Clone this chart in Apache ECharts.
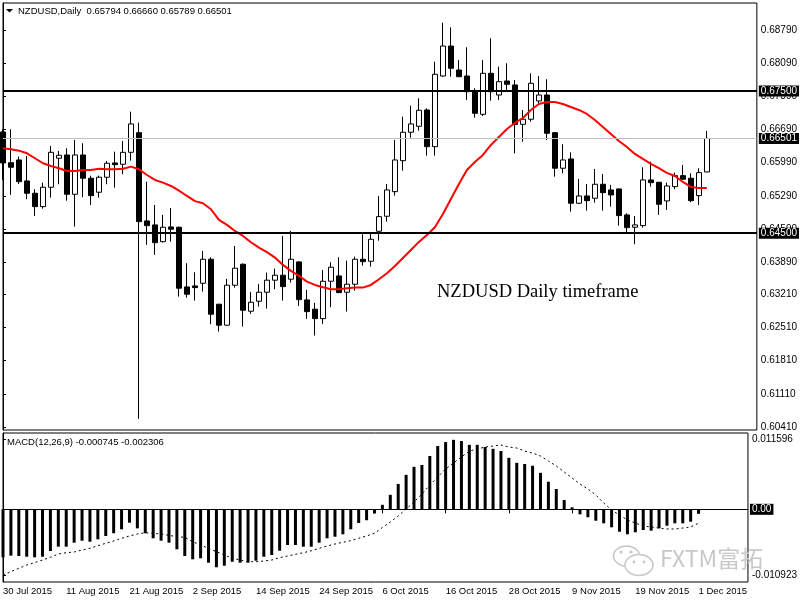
<!DOCTYPE html>
<html><head><meta charset="utf-8">
<script src="https://cdn.jsdelivr.net/npm/echarts@6/dist/echarts.min.js"></script>
<style>html,body{margin:0;padding:0;background:#fff}#c{width:800px;height:600px}</style>
</head><body><div id="c"></div>
<script>
const dates = [
'30 Jul 2015','31 Jul 2015',
'3 Aug 2015','4 Aug 2015','5 Aug 2015','6 Aug 2015','7 Aug 2015','10 Aug 2015','11 Aug 2015','12 Aug 2015','13 Aug 2015','14 Aug 2015','17 Aug 2015','18 Aug 2015','19 Aug 2015','20 Aug 2015','21 Aug 2015','24 Aug 2015','25 Aug 2015','26 Aug 2015','27 Aug 2015','28 Aug 2015','31 Aug 2015',
'1 Sep 2015','2 Sep 2015','3 Sep 2015','4 Sep 2015','7 Sep 2015','8 Sep 2015','9 Sep 2015','10 Sep 2015','11 Sep 2015','14 Sep 2015','15 Sep 2015','16 Sep 2015','17 Sep 2015','18 Sep 2015','21 Sep 2015','22 Sep 2015','23 Sep 2015','24 Sep 2015','25 Sep 2015','28 Sep 2015','29 Sep 2015','30 Sep 2015',
'1 Oct 2015','2 Oct 2015','5 Oct 2015','6 Oct 2015','7 Oct 2015','8 Oct 2015','9 Oct 2015','12 Oct 2015','13 Oct 2015','14 Oct 2015','15 Oct 2015','16 Oct 2015','19 Oct 2015','20 Oct 2015','21 Oct 2015','22 Oct 2015','23 Oct 2015','26 Oct 2015','27 Oct 2015','28 Oct 2015','29 Oct 2015','30 Oct 2015',
'2 Nov 2015','3 Nov 2015','4 Nov 2015','5 Nov 2015','6 Nov 2015','9 Nov 2015','10 Nov 2015','11 Nov 2015','12 Nov 2015','13 Nov 2015','16 Nov 2015','17 Nov 2015','18 Nov 2015','19 Nov 2015','20 Nov 2015','23 Nov 2015','24 Nov 2015','25 Nov 2015','26 Nov 2015','27 Nov 2015','30 Nov 2015',
'1 Dec 2015'];
const dateTicks = [0,8,16,24,32,40,48,56,64,72,80,88];

const opens = [0.66638,0.65990,0.66047,0.65604,0.65344,0.65062,0.65471,0.66083,0.66152,0.65323,
0.66152,0.65661,0.65366,0.65682,0.65984,0.65956,0.66209,0.66623,0.64760,0.64676,
0.64323,0.64633,0.64627,0.63367,0.63388,0.63445,0.63951,0.63002,0.62559,0.63403,
0.63846,0.62854,0.63065,0.63255,0.63509,0.63614,0.63530,0.63895,0.63093,0.62896,
0.62698,0.63487,0.63599,0.63255,0.63424,0.63951,0.63909,0.64542,0.64859,0.65378,
0.66032,0.66632,0.66758,0.67102,0.66328,0.67819,0.68452,0.67946,0.67819,0.67488,
0.67011,0.67876,0.67418,0.67714,0.67630,0.66800,0.66906,0.67292,0.67418,0.66623,
0.65872,0.66068,0.65133,0.65287,0.65239,0.65534,0.65414,0.65435,0.64887,0.64627,
0.64661,0.65625,0.65576,0.65182,0.65484,0.65716,0.65661,0.65294,0.65794];
const highs = [0.66701,0.66695,0.66117,0.66131,0.65429,0.65568,0.66343,0.66237,0.66294,0.66469,
0.66399,0.65716,0.65716,0.66026,0.66222,0.66448,0.67066,0.66834,0.65589,0.65097,
0.64887,0.65034,0.64640,0.63867,0.63677,0.64127,0.63994,0.63009,0.63536,0.64232,
0.63863,0.63262,0.63431,0.63669,0.63754,0.64443,0.64549,0.63905,0.63304,0.63030,
0.63726,0.63888,0.63994,0.63922,0.64006,0.64479,0.64528,0.65287,0.65541,0.66469,
0.66961,0.67193,0.67349,0.67138,0.68121,0.68944,0.68847,0.68157,0.68425,0.67560,
0.68157,0.68615,0.68016,0.68087,0.67735,0.67102,0.67876,0.67819,0.67750,0.66638,
0.66378,0.66209,0.65646,0.65541,0.65857,0.65752,0.65520,0.65446,0.64922,0.64865,
0.65893,0.66011,0.65583,0.65568,0.65779,0.65942,0.65766,0.65872,0.66660];
const lows = [0.65625,0.65309,0.65541,0.65218,0.64865,0.65019,0.65252,0.65534,0.65188,0.64640,
0.65260,0.65097,0.65252,0.65534,0.65462,0.65745,0.66032,0.60582,0.64254,0.64043,
0.64302,0.64323,0.63163,0.63141,0.63078,0.63268,0.62580,0.62424,0.62550,0.63352,
0.62530,0.62798,0.62952,0.62909,0.63319,0.63078,0.63458,0.62966,0.62692,0.62340,
0.62587,0.62939,0.63234,0.62846,0.63289,0.63817,0.63796,0.64344,0.64745,0.65294,
0.65821,0.66518,0.66665,0.66138,0.66138,0.67804,0.67804,0.67797,0.67313,0.66940,
0.66976,0.67298,0.67313,0.67503,0.66188,0.66433,0.66855,0.67208,0.66469,0.65695,
0.65766,0.64956,0.65119,0.64977,0.65146,0.64977,0.65062,0.64661,0.64500,0.64268,
0.64619,0.65484,0.64887,0.64992,0.65429,0.65625,0.65155,0.65097,0.65789];
const closes = [0.65984,0.65893,0.65589,0.65344,0.65062,0.65471,0.66209,0.66146,0.65323,0.66152,
0.65661,0.65294,0.65682,0.65977,0.65948,0.66209,0.66807,0.64745,0.64661,0.64302,
0.64627,0.64585,0.63340,0.63213,0.63352,0.63951,0.62791,0.62559,0.63403,0.63762,
0.62875,0.63044,0.63255,0.63509,0.63614,0.63374,0.63951,0.63099,0.62846,0.62698,
0.63487,0.63783,0.63247,0.63424,0.63951,0.63901,0.64373,0.64851,0.65414,0.66047,
0.66632,0.66807,0.67096,0.66328,0.67855,0.68452,0.67982,0.67804,0.67488,0.67032,
0.67876,0.67488,0.67699,0.67644,0.66800,0.66906,0.67665,0.67418,0.66610,0.65872,
0.66047,0.65133,0.65287,0.65188,0.65534,0.65357,0.65309,0.64872,0.64619,0.64676,
0.65625,0.65568,0.65112,0.65498,0.65716,0.65640,0.65188,0.65779,0.66501];
const maValues = [0.66294,0.66273,0.66243,0.66188,0.66083,0.65977,0.65920,0.65872,0.65815,0.65815,
0.65836,0.65836,0.65863,0.65851,0.65851,0.65863,0.65906,0.65851,0.65730,0.65625,
0.65568,0.65498,0.65399,0.65287,0.65178,0.65133,0.65007,0.64781,0.64676,0.64549,
0.64443,0.64310,0.64197,0.64100,0.63986,0.63832,0.63705,0.63599,0.63479,0.63409,
0.63361,0.63319,0.63319,0.63340,0.63353,0.63353,0.63409,0.63530,0.63656,0.63810,
0.63979,0.64148,0.64317,0.64465,0.64626,0.64908,0.65224,0.65541,0.65836,0.66005,
0.66153,0.66364,0.66532,0.66701,0.66828,0.66933,0.67102,0.67229,0.67271,0.67271,
0.67229,0.67166,0.67102,0.67018,0.66891,0.66743,0.66596,0.66448,0.66322,0.66174,
0.66068,0.65963,0.65875,0.65773,0.65709,0.65583,0.65478,0.65455,0.65455];
const macdHist = [-0.00795,-0.00768,-0.00773,-0.00785,-0.00795,-0.00785,-0.00691,-0.00619,-0.00619,-0.00553,
-0.00520,-0.00537,-0.00497,-0.00442,-0.00397,-0.00331,-0.00222,-0.00315,-0.00397,-0.00480,
-0.00520,-0.00553,-0.00662,-0.00773,-0.00828,-0.00811,-0.00884,-0.00960,-0.00934,-0.00868,
-0.00884,-0.00884,-0.00851,-0.00785,-0.00757,-0.00686,-0.00591,-0.00591,-0.00619,-0.00619,
-0.00553,-0.00480,-0.00454,-0.00414,-0.00331,-0.00227,-0.00181,-0.00070,0.00075,0.00240,
0.00419,0.00571,0.00704,0.00734,0.00883,0.01048,0.01114,0.01151,0.01131,0.01068,
0.01068,0.01032,0.01002,0.00965,0.00853,0.00770,0.00750,0.00722,0.00604,0.00457,
0.00336,0.00154,0.00033,-0.00083,-0.00132,-0.00189,-0.00232,-0.00298,-0.00371,-0.00414,
-0.00381,-0.00343,-0.00354,-0.00315,-0.00272,-0.00232,-0.00232,-0.00205,-0.000745];
const macdSignal = [-0.01088,-0.01033,-0.00977,-0.00922,-0.00884,-0.00840,-0.00795,-0.00740,-0.00719,-0.00707,
-0.00674,-0.00646,-0.00603,-0.00563,-0.00525,-0.00480,-0.00442,-0.00409,-0.00388,-0.00397,
-0.00409,-0.00431,-0.00454,-0.00464,-0.00537,-0.00591,-0.00646,-0.00702,-0.00757,-0.00811,
-0.00840,-0.00868,-0.00868,-0.00856,-0.00840,-0.00801,-0.00773,-0.00745,-0.00719,-0.00686,
-0.00646,-0.00608,-0.00575,-0.00546,-0.00520,-0.00480,-0.00442,-0.00397,-0.00301,-0.00210,
-0.00111,0.00005,0.00121,0.00253,0.00402,0.00535,0.00667,0.00767,0.00866,0.00965,
0.00999,0.01032,0.01048,0.01065,0.01032,0.01015,0.00965,0.00932,0.00883,0.00800,
0.00717,0.00618,0.00518,0.00419,0.00336,0.00237,0.00104,-0.00012,-0.00094,-0.00177,
-0.00227,-0.00277,-0.00293,-0.00310,-0.00326,-0.00326,-0.00310,-0.00293,-0.002306];
const priceTicks = [0.60410,0.61110,0.61810,0.62510,0.63210,0.63890,0.64590,0.65290,0.65990,0.66690,0.67390,0.68090,0.68790];
const macdTicks = [-0.010923,0.011596];
const levelLines = [0.67500,0.64500];
const lastPrice = 0.66501;

const FONT = '"Liberation Sans", Arial, sans-serif';
const candleData = opens.map((o,i)=>[i,o,closes[i],lows[i],highs[i]]);
const maData = maValues.map((v,i)=>[i,v]);
const histData = macdHist.map((v,i)=>[i,v]);
const sigData = macdSignal.map((v,i)=>[i,v]);

const chart = echarts.init(document.getElementById('c'), null, {renderer:'canvas'});
const blackLabel = {position:'end', distance:2, color:'#fff', backgroundColor:'#000', padding:[1,2,0,2], fontSize:10, fontFamily:FONT};
chart.setOption({
  animation:false,
  backgroundColor:'#fff',
  grid:[
    {left:3, top:3, width:754, height:427, show:true, borderColor:'#000', borderWidth:1, backgroundColor:'transparent'},
    {left:3, top:433, width:754, height:149, show:true, borderColor:'#000', borderWidth:1, backgroundColor:'transparent'}
  ],
  xAxis:[
    {gridIndex:0, type:'value', min:0, max:94.25, show:false, splitLine:{show:false}},
    {gridIndex:1, type:'value', min:0, max:94.25, splitLine:{show:false},
     axisLine:{show:true, lineStyle:{color:'#000', width:1}},
     axisTick:{show:true, length:4, customValues:dateTicks, lineStyle:{color:'#000'}},
     axisLabel:{show:true, customValues:dateTicks, formatter:v=>dates[v]||'', align:'left', margin:4, fontSize:9.5, color:'#000', fontFamily:FONT}}
  ],
  yAxis:[
    {gridIndex:0, type:'value', position:'right', min:0.60347, max:0.69360, splitLine:{show:false},
     axisLine:{show:true, lineStyle:{color:'#000'}},
     axisTick:{show:true, length:3, customValues:priceTicks, lineStyle:{color:'#000'}},
     axisLabel:{customValues:priceTicks, formatter:v=>v.toFixed(5), margin:4, fontSize:10, color:'#000', fontFamily:FONT}},
    {gridIndex:1, type:'value', position:'right', min:-0.01204, max:0.01264, splitLine:{show:false},
     axisLine:{show:true, lineStyle:{color:'#000'}},
     axisTick:{show:true, length:3, customValues:macdTicks, lineStyle:{color:'#000'}},
     axisLabel:{customValues:macdTicks, formatter:v=>v.toFixed(6), margin:4, fontSize:10, color:'#000', fontFamily:FONT}}
  ],
  series:[
    {type:'candlestick', name:'NZDUSD', xAxisIndex:0, yAxisIndex:0, data:candleData,
     encode:{x:0, y:[1,2,3,4]}, barWidth:5, clip:true, z:2,
     itemStyle:{color:'#fff', color0:'#000', borderColor:'#000', borderColor0:'#000', borderWidth:1}},
    {type:'line', name:'MA', xAxisIndex:0, yAxisIndex:0, data:maData, showSymbol:false, symbol:'none',
     lineStyle:{color:'#ff0000', width:2}, z:3,
     markLine:{silent:true, symbol:'none', animation:false, precision:5,
       data:[
         {yAxis:lastPrice, lineStyle:{color:'#c0c0c0', width:1, type:'solid'}, label:Object.assign({formatter:lastPrice.toFixed(5)}, blackLabel)},
         ...levelLines.map(v=>({yAxis:v, lineStyle:{color:'#000', width:2, type:'solid'}, label:Object.assign({formatter:v.toFixed(5)}, blackLabel)}))
       ]}},
    {type:'bar', name:'MACD', xAxisIndex:1, yAxisIndex:1, data:histData, barWidth:3,
     itemStyle:{color:'#000'},
     markLine:{silent:true, symbol:'none', animation:false,
       data:[{yAxis:0, lineStyle:{color:'#000', width:1, type:'solid'}, label:Object.assign({formatter:'0.00'}, blackLabel)}]}},
    {type:'line', name:'Signal', xAxisIndex:1, yAxisIndex:1, data:sigData, showSymbol:false, symbol:'none',
     lineStyle:{color:'#000', width:1, type:[2,3]}, z:3}
  ],
  graphic:[
    {type:'polygon', z:100, shape:{points:[[6,9],[13,9],[9.5,12.5]]}, style:{fill:'#000'}},
    {type:'text', z:100, x:18, y:11, style:{text:'NZDUSD,Daily  0.65794 0.66660 0.65789 0.66501', fill:'#000', font:'9.5px '+FONT, textVerticalAlign:'middle'}},
    {type:'text', z:100, x:7, y:442, style:{text:'MACD(12,26,9) -0.000745 -0.002306', fill:'#000', font:'9.5px '+FONT, textVerticalAlign:'middle'}},
    {type:'text', z:100, x:437, y:292, style:{text:'NZDUSD Daily timeframe', fill:'#000', font:'18.5px "Liberation Serif", "Times New Roman", serif', textVerticalAlign:'middle'}},
    {type:'ellipse', z:100, shape:{cx:626.5, cy:556, rx:13, ry:10}, style:{fill:'#fff', stroke:'#c8c8c8', lineWidth:1.5}},
    {type:'ellipse', z:101, shape:{cx:639, cy:565, rx:14, ry:10.5}, style:{fill:'#fff', stroke:'#c8c8c8', lineWidth:1.5}},
    {type:'circle', z:102, shape:{cx:621, cy:552, r:1.6}, style:{fill:'#c8c8c8'}},
    {type:'circle', z:102, shape:{cx:631, cy:552, r:1.6}, style:{fill:'#c8c8c8'}},
    {type:'circle', z:102, shape:{cx:634, cy:562, r:1.4}, style:{fill:'#c8c8c8'}},
    {type:'circle', z:102, shape:{cx:644, cy:562, r:1.4}, style:{fill:'#c8c8c8'}},
    {type:'text', z:100, x:660, y:558, style:{text:'FXTM富拓', fill:'#c8c8c8', font:'23px "Noto Sans CJK SC", "Liberation Sans", sans-serif', textVerticalAlign:'middle'}}
  ]
});
</script></body></html>
